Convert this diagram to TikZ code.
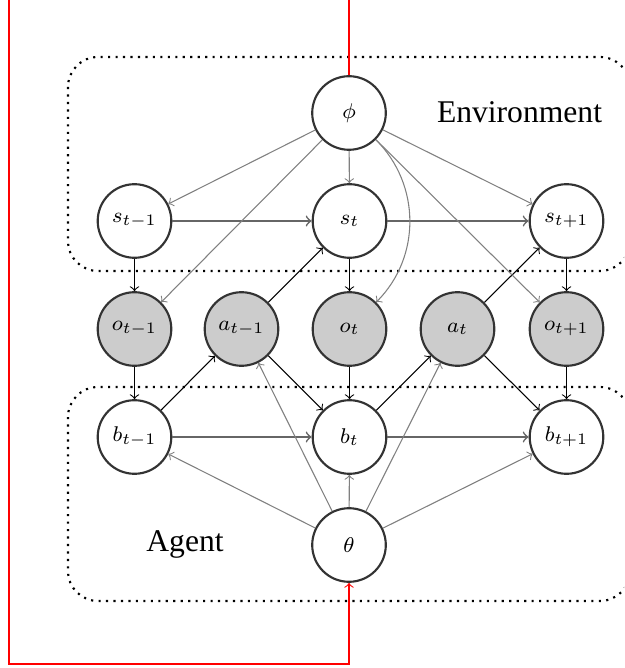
\documentclass[tikz,border=0pt]{standalone}
\usepackage{fontspec}
\setmainfont{Liberation Serif}
\begin{document}
\begin{tikzpicture}[x=0.375pt,y=-0.375pt,
  var/.style={circle, draw=black!80, thick, fill=white, minimum size=27.6pt,
    inner sep=0pt, font=\fontsize{8}{9.6}\selectfont},
  obs/.style={var, fill=black!20},
  flow/.style={->, draw=black!60, semithick},
  dep/.style={->, draw=black, line width=0.4pt},
  prior/.style={->, draw=gray, line width=0.4pt},
  region/.style={draw=black, thick, dotted, rounded corners=11.25pt},
  feedback/.style={->, draw=red, line width=0.4pt},
  caption/.style={anchor=base, inner sep=0pt, font=\fontsize{11.85}{14}\selectfont}
]
\useasboundingbox (0,0) rectangle (624,668);
\clip (0,0) rectangle (624,668);

% environment and agent regions
\draw[region] (68,57) rectangle (630,271);
\draw[region] (68,387) rectangle (630,601);
\node[caption] (envlabel) at (519.5,123) {Environment};
\node[caption] (agentlabel) at (185,551.7) {Agent};

% variables
\node[var] (phi) at (349,113) {$\phi$};
\node[var] (sm) at (134.5,221) {$s_{t-1}$};
\node[var] (s)  at (349.5,221) {$s_t$};
\node[var] (sp) at (566.5,221) {$s_{t+1}$};
\node[obs] (om) at (134.5,329) {$o_{t-1}$};
\node[obs] (am) at (241.5,329) {$a_{t-1}$};
\node[obs] (o)  at (349.5,329) {$o_t$};
\node[obs] (a)  at (457.5,329) {$a_t$};
\node[obs] (op) at (566.5,329) {$o_{t+1}$};
\node[var] (bm) at (134.5,437) {$b_{t-1}$};
\node[var] (b)  at (349.5,437) {$b_t$};
\node[var] (bp) at (566.5,437) {$b_{t+1}$};
\node[var] (theta) at (349,545) {$\theta$};

% temporal transitions
\draw[flow] (sm) -- (s);
\draw[flow] (s) -- (sp);
\draw[flow] (bm) -- (b);
\draw[flow] (b) -- (bp);

% observations, beliefs and actions
\draw[dep] (sm) -- (om);
\draw[dep] (s) -- (o);
\draw[dep] (sp) -- (op);
\draw[dep] (om) -- (bm);
\draw[dep] (o) -- (b);
\draw[dep] (op) -- (bp);
\draw[dep] (bm) -- (am);
\draw[dep] (am) -- (s);
\draw[dep] (am) -- (b);
\draw[dep] (b) -- (a);
\draw[dep] (a) -- (sp);
\draw[dep] (a) -- (bp);

% environment parameters
\draw[prior] (phi) -- (sm);
\draw[prior] (phi) -- (s);
\draw[prior] (phi) -- (sp);
\draw[prior] (phi) -- (om);
\draw[prior] (phi) -- (op);
\draw[prior] (phi) to[bend left=45] (o);

% agent parameters
\draw[prior] (theta) -- (bm);
\draw[prior] (theta) -- (b);
\draw[prior] (theta) -- (bp);
\draw[prior] (theta) -- (am);
\draw[prior] (theta) -- (a);

% outer loop from environment to agent
\coordinate (top) at (349,-20);
\coordinate (topleft) at (9,-20);
\coordinate (botleft) at (9,664);
\coordinate (bot) at (349,664);
\draw[feedback] (phi.north) -- (top) -- (topleft) -- (botleft) -- (bot) -- (theta.south);
\end{tikzpicture}
\end{document}
